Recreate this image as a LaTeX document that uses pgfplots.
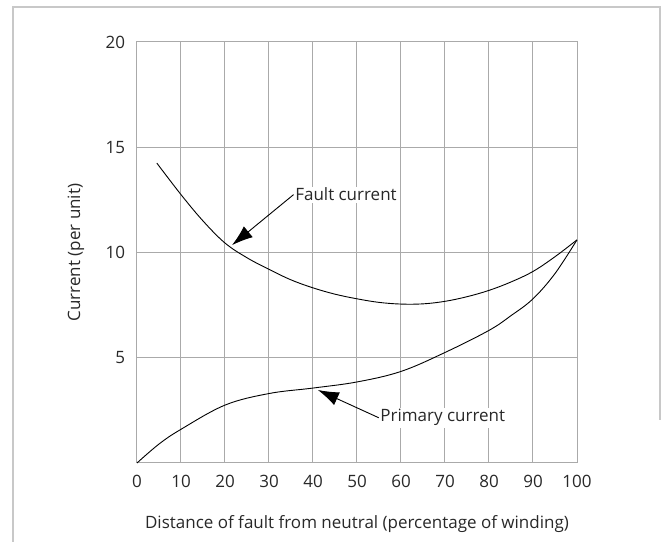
\documentclass[border=0pt]{standalone}
\usepackage{fontspec}
\setmainfont{Open Sans}
\usepackage{pgfplots}
\pgfplotsset{compat=1.18}
\usetikzlibrary{arrows.meta}
\definecolor{gridgrey}{RGB}{170,170,170}
\definecolor{framegrey}{RGB}{200,200,200}
\definecolor{textgrey}{RGB}{40,40,40}
\begin{document}
\fontsize{17}{20}\selectfont
\begin{tikzpicture}
\begin{axis}[
  scale only axis,
  width=440pt, height=421pt,
  xmin=0, xmax=100, ymin=0, ymax=20,
  xtick={0,10,...,100},
  ytick={5,10,15,20},
  extra y ticks={0}, extra y tick labels={},
  grid=major,
  grid style={gridgrey, line width=1pt},
  axis line style={gridgrey, line width=1pt},
  major tick length=0pt,
  xticklabel style={yshift=-6pt},
  yticklabel style={xshift=-6pt},
  /pgf/number format/assume math mode=true,
  ticklabel style={font=\fontsize{17}{20}\selectfont, text=textgrey},
  xlabel={Distance of fault from neutral (percentage of winding)},
  ylabel={Current (per unit)},
  label style={font=\fontsize{17}{20}\selectfont, text=textgrey},
  xlabel style={yshift=-17pt},
  ylabel style={yshift=10pt},
  clip=false,
]
% fault current
\addplot[black, line width=0.9pt, smooth, tension=0.6] coordinates {
 (4.5,14.25) (10,12.75) (15,11.5) (20,10.45) (25,9.75) (30,9.2) (35,8.7) (40,8.32)
 (45,8.02) (50,7.8) (55,7.63) (60,7.55) (65,7.56) (70,7.68) (75,7.9) (80,8.2)
 (85,8.6) (90,9.1) (95,9.8) (100,10.6)};
% primary current
\addplot[black, line width=0.9pt, smooth, tension=0.6] coordinates {
 (0,0) (5,0.9) (10,1.6) (20,2.75) (30,3.3) (40,3.56) (50,3.85)
 (60,4.35) (70,5.25) (80,6.3) (85,7.0) (90,7.8) (95,9.0) (100,10.6)};
\node[fill=white, inner sep=1.5pt, text=textgrey] (fl) at (axis cs:47.5,12.75) {Fault current};
\node[fill=white, inner sep=1.5pt, text=textgrey] (pl) at (axis cs:69.5,2.15) {Primary current};
\draw[black, line width=0.9pt, -{Latex[length=21pt,width=14pt]}] (fl.west) -- (axis cs:21.6,10.35);
\draw[black, line width=0.9pt, -{Latex[length=21pt,width=14pt]}] (pl.west) -- (axis cs:41.1,3.47);
\end{axis}
\draw[framegrey, line width=1.2pt] (-124pt,-79pt) -- (-124pt,456pt) -- (523pt,456pt) -- (523pt,43pt);
\path[use as bounding box] (-137pt,-79pt) rectangle (528pt,463pt);
\end{tikzpicture}
\end{document}
